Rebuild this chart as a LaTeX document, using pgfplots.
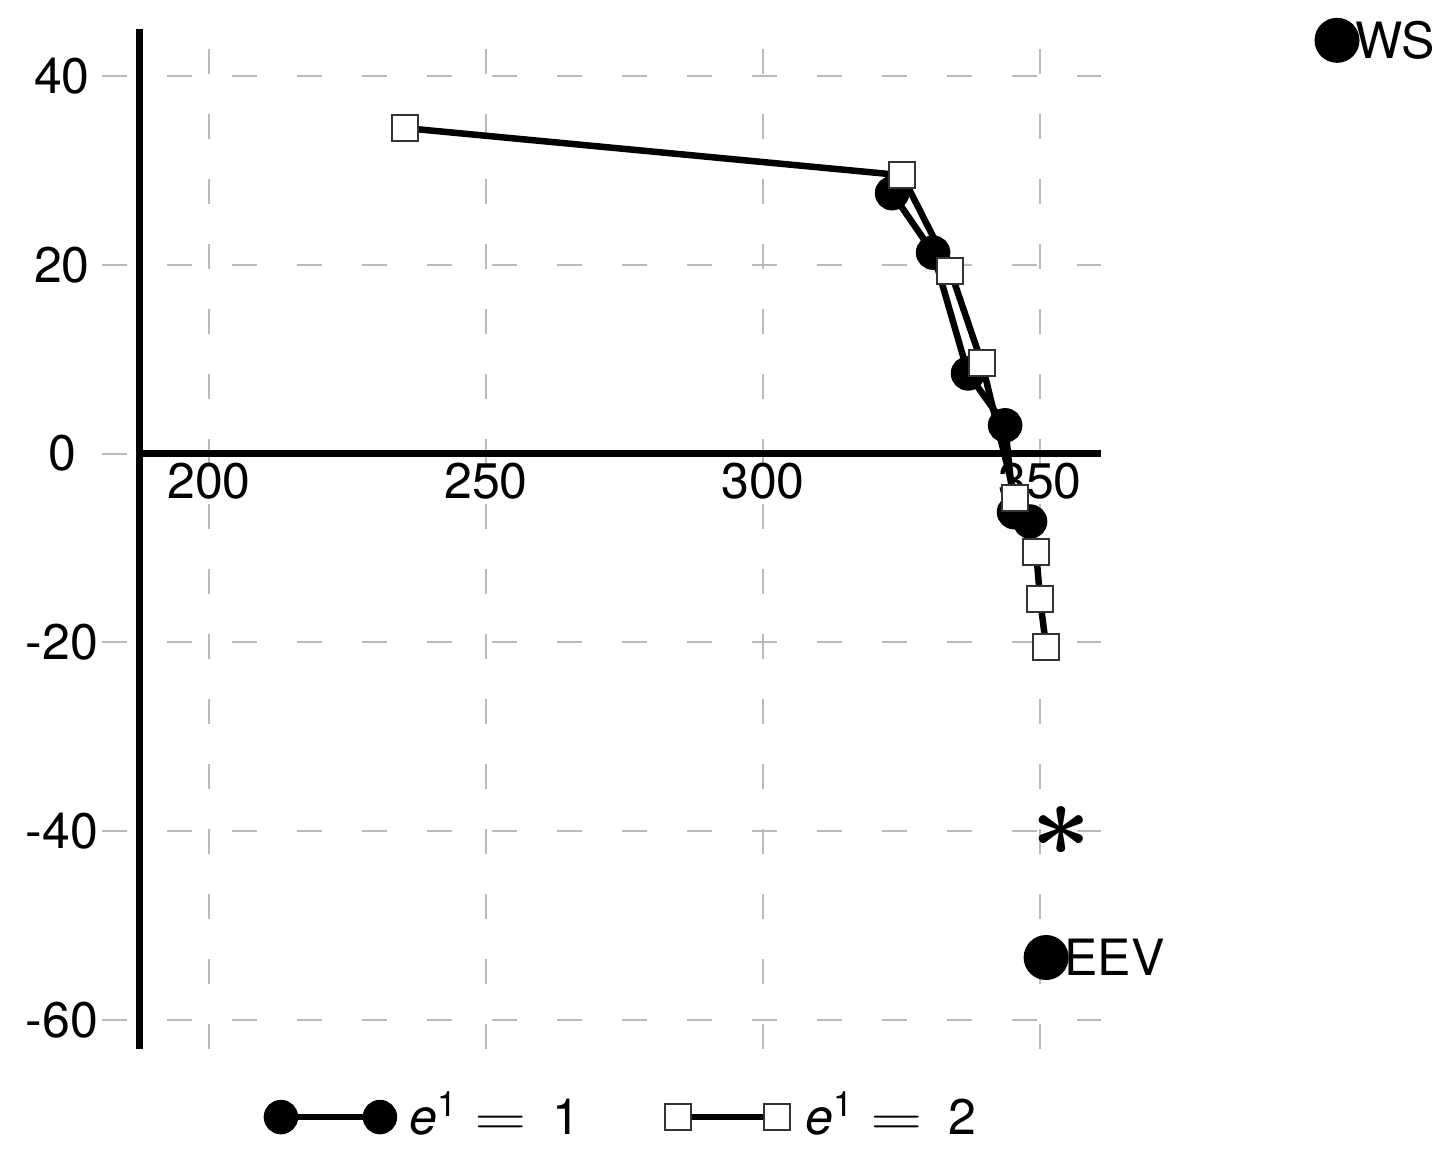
\documentclass[border=0pt]{standalone}
\usepackage{fontspec}
\setmainfont{TeX Gyre Heros}
\usepackage{graphicx}
\usepackage{pgfplots}
\pgfplotsset{compat=1.18}
\newcommand{\eqlab}[1]{\hspace{1.2pt}\textit{e}\textsuperscript{1}\hspace{0.3em}\scalebox{1.35}[1]{$=$}\hspace{0.5em}#1}
\begin{document}
\begin{tikzpicture}
\begin{axis}[
  scale only axis, width=199.8pt, height=204pt,
  xmin=180.7, xmax=361.0, ymin=-63.1, ymax=45.0,
  axis x line=middle, axis y line=left,
  axis line style={draw=none,-},
  hide obscured x ticks=false, hide obscured y ticks=false,
  major tick length=0pt,
  xtick={200,250,300,350}, ytick={-60,-40,-20,0,20,40},
  grid=major,
  major grid style={gray!55, line width=0.4pt, dash pattern=on 5pt off 8pt},
  /pgf/number format/assume math mode=true,
  ticklabel style={font=\fontsize{10}{12}\selectfont},
  xticklabel style={anchor=north, yshift=1.7pt},
  yticklabel style={anchor=center, xshift=-8pt},
  clip=false,
  legend style={at={(0.5,-0.0667)}, anchor=center, xshift=5pt, draw=none, fill=none,
    legend columns=2, font=\fontsize{10}{12}\selectfont,
    /tikz/every even column/.append style={column sep=15pt}},
  legend image code/.code={\draw[#1] plot coordinates {(0pt,0pt) (19.8pt,0pt)};},
]
\draw[line width=1.4pt] (axis cs:187.5,-63.1) -- (axis cs:187.5,45.0);
\draw[line width=1.4pt] (axis cs:187.5,0) -- (axis cs:361.0,0);
\addplot[black, line width=1.3pt, mark=*, mark size=2.8pt]
  coordinates {(323.3,27.6)(330.7,21.3)(337.0,8.5)(343.7,3.0)(345.3,-6.2)(348.2,-7.2)};
\addplot[black, line width=1.3pt, mark=square*, mark size=2.6pt,
  mark options={fill=white, draw=black!80, line width=0.4pt}]
  coordinates {(235.4,34.5)(325.1,29.5)(333.8,19.4)(339.5,9.6)(345.5,-4.7)(349.3,-10.4)(350.0,-15.4)(351.1,-20.5)};
\addplot[forget plot, only marks, mark=text, text mark={\huge\boldmath$\ast$}]
  coordinates {(353.8,-40.0)};
\addplot[forget plot, only marks, black, mark=*, mark size=4.3pt]
  coordinates {(351.1,-53.4)};
\addplot[forget plot, only marks, black, mark=*, mark size=4.3pt]
  coordinates {(403.6,43.8)};
\node[anchor=west, inner sep=0pt, font=\fontsize{10}{12}\selectfont] at ([xshift=3.5pt]axis cs:351.1,-53.4) {EEV};
\node[anchor=west, inner sep=0pt, font=\fontsize{10}{12}\selectfont] at ([xshift=3.5pt]axis cs:403.6,43.8) {WS};
\legend{\eqlab{1}, \eqlab{2}}
\end{axis}
\pgfresetboundingbox
\path[use as bounding box] ([shift={(-20.4pt,-20.4pt)}]current axis.south west) rectangle ([shift={(69.6pt,5.8pt)}]current axis.north east);
\end{tikzpicture}
\end{document}
